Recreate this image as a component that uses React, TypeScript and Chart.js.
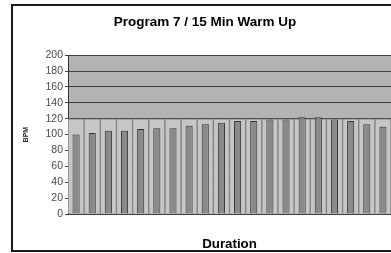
import React, { useEffect, useRef } from "react";
import { Chart, registerables } from "chart.js";

Chart.register(...registerables);

const titleText = "Program 7 / 15 Min Warm Up";
const xTitle = "Duration";
const yTitle = "BPM";
const categories = ["1", "2", "3", "4", "5", "6", "7", "8", "9", "10", "11", "12", "13", "14", "15", "16", "17", "18", "19", "20"];
const bpmValues = [100, 102, 105, 105, 107, 108, 108, 111, 113, 115, 117, 117, 119, 119, 122, 122, 119, 117, 113, 110];
const zoneValues = [120, 120, 120, 120, 120, 120, 120, 120, 120, 120, 120, 120, 120, 120, 120, 120, 120, 120, 120, 120];
const yMin = 0;
const yMax = 200;
const yStep = 20;

const FONT = "'Liberation Sans', Arial, sans-serif";

const bgPlugin = {
  id: "plotBg",
  beforeDraw(chart: any) {
    const { ctx, chartArea } = chart;
    ctx.save();
    ctx.fillStyle = "#ffffff";
    ctx.fillRect(0, 0, chart.width, chart.height);
    ctx.fillStyle = "#b3b3b3";
    ctx.fillRect(chartArea.left, chartArea.top, chartArea.right - chartArea.left, chartArea.bottom - chartArea.top);
    ctx.restore();
  },
  afterDraw(chart: any) {
    const { ctx } = chart;
    ctx.save();
    ctx.strokeStyle = "#1a1a1a";
    ctx.lineWidth = 2;
    ctx.strokeRect(12, 5, 600, 246);
    ctx.restore();
  },
};

export default function App() {
  const ref = useRef<HTMLCanvasElement | null>(null);
  useEffect(() => {
    document.body.style.margin = "0";
    document.body.style.overflow = "hidden";
    const canvas = ref.current;
    if (!canvas) return;
    const chart = new Chart(canvas, {
      type: "bar",
      data: {
        labels: categories,
        datasets: [
          {
            label: "BPM",
            data: bpmValues,
            backgroundColor: "#8a8a8a",
            borderColor: "#383838",
            borderWidth: 1,
            barPercentage: 0.44,
            categoryPercentage: 1,
            grouped: false,
          } as any,
          {
            label: "Zone",
            data: zoneValues,
            backgroundColor: "#c6c6c6",
            borderColor: "#808080",
            borderWidth: 1,
            barPercentage: 1,
            categoryPercentage: 1,
            grouped: false,
          } as any,
        ],
      },
      plugins: [bgPlugin],
      options: {
        animation: false,
        responsive: false,
        devicePixelRatio: 1,
        layout: { padding: { left: 19, right: 0, top: 0, bottom: 1 } },
        plugins: {
          legend: { display: false },
          tooltip: { enabled: false },
          title: {
            display: true,
            text: titleText,
            color: "#000000",
            font: { family: FONT, size: 13.5, weight: "bold" },
            padding: { top: 14, bottom: 25 },
          },
        },
        scales: {
          x: {
            offset: true,
            grid: { display: false },
            border: { display: false },
            ticks: { display: false },
            title: {
              display: true,
              text: xTitle,
              color: "#000000",
              font: { family: FONT, size: 13.3, weight: "bold" },
              padding: { top: 0, bottom: 0 },
            },
            afterFit: (s: any) => {
              s.height = 38;
            },
          },
          y: {
            min: yMin,
            max: yMax,
            z: 1,
            ticks: {
              stepSize: yStep,
              color: "#4a4a4a",
              padding: 2,
              font: { family: FONT, size: 10.5 },
            },
            grid: { color: "#404040", tickLength: 3, tickColor: "#404040", lineWidth: 1 },
            border: { display: true, color: "#333333" },
            title: {
              display: true,
              text: yTitle,
              color: "#222222",
              font: { family: FONT, size: 7, weight: "bold" },
              padding: { top: 3, bottom: 0 },
            },
            afterFit: (s: any) => {
              s.width = 49;
            },
          },
        },
      } as any,
    });
    return () => chart.destroy();
  }, []);
  return (
    <div style={{ width: 391, height: 253 }}>
      <canvas ref={ref} width={391} height={253} style={{ display: "block" }} />
    </div>
  );
}
